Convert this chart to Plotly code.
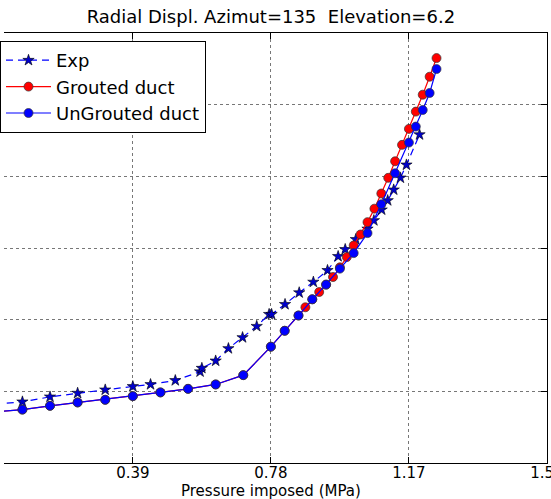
import plotly.graph_objects as go

# ---- data ----
pressure_exp = [0, 0.078, 0.156, 0.234, 0.312, 0.39, 0.44, 0.51, 0.58, 0.585, 0.624, 0.66,
                0.70, 0.74, 0.775, 0.782, 0.82, 0.86, 0.90, 0.94, 0.97, 0.99, 1.02, 1.053,
                1.071, 1.093, 1.11, 1.127, 1.146, 1.163, 1.20]
displ_exp = [0.82, 0.854, 0.923, 0.975, 1.021, 1.068, 1.096, 1.152, 1.274, 1.323, 1.425, 1.598,
             1.751, 1.908, 2.075, 2.075, 2.214, 2.377, 2.525, 2.688, 2.883, 2.981, 3.12, 3.266,
             3.384, 3.533, 3.663, 3.812, 3.979, 4.16, 4.582]

pressure_grouted = [0, 0.078, 0.156, 0.234, 0.312, 0.39, 0.468, 0.546, 0.624, 0.702, 0.78,
                    0.819, 0.858, 0.8775, 0.897, 0.9165, 0.936, 0.9555, 0.975, 0.9945, 1.014,
                    1.0335, 1.053, 1.0725, 1.092, 1.1115, 1.131, 1.1505, 1.17, 1.1895, 1.209,
                    1.2285, 1.248]
displ_grouted = [0.713, 0.745, 0.798, 0.845, 0.882, 0.933, 0.985, 1.035, 1.096, 1.226, 1.623,
                 1.845, 2.058, 2.173, 2.284, 2.386, 2.489, 2.595, 2.73, 2.873, 3.036,
                 3.189, 3.361, 3.549, 3.76, 3.979, 4.21, 4.439, 4.662, 4.903, 5.139,
                 5.39, 5.65]

pressure_ungrouted = [0, 0.078, 0.156, 0.234, 0.312, 0.39, 0.468, 0.546, 0.624, 0.702, 0.78,
                      0.819, 0.858, 0.897, 0.936, 0.975, 1.014, 1.053, 1.092, 1.131, 1.17,
                      1.1895, 1.209, 1.2285, 1.248]
displ_ungrouted = [0.713, 0.745, 0.798, 0.845, 0.882, 0.933, 0.985, 1.035, 1.096, 1.226, 1.623,
                   1.845, 2.058, 2.284, 2.489, 2.712, 2.929, 3.208, 3.61, 4.043, 4.471,
                   4.694, 4.926, 5.163, 5.497]

x_tickvals = [0, 0.39, 0.78, 1.17, 1.56]
x_ticktext = ["0", "0.39", "0.78", "1.17", "1.56"]
y_tickvals = [0, 1, 2, 3, 4, 5, 6]

FONT = "DejaVu Sans"
X_MIN, X_MAX = 0.026, 1.5601   # left part of the axes lies outside the picture

fig = go.Figure()
fig.add_trace(go.Scatter(
    x=pressure_exp, y=displ_exp, name="Exp", mode="lines+markers",
    line=dict(color="#0000ff", width=1.2, dash="7px,5px"),
    marker=dict(symbol="star", size=8.5, color="#0000cc", line=dict(color="black", width=0.6)),
))
fig.add_trace(go.Scatter(
    x=pressure_grouted, y=displ_grouted, name="Grouted duct", mode="lines+markers",
    line=dict(color="#ff0000", width=1.2),
    marker=dict(symbol="circle", size=9, color="#ff0000", line=dict(color="#333333", width=0.7)),
))
fig.add_trace(go.Scatter(
    x=pressure_ungrouted, y=displ_ungrouted, name="UnGrouted duct", mode="lines+markers",
    line=dict(color="#0000ff", width=1.2),
    marker=dict(symbol="circle", size=9, color="#0000ff", line=dict(color="#333333", width=0.7)),
))

zero_paper = (0 - X_MIN) / (X_MAX - X_MIN)
center_paper = (zero_paper + 1) / 2

fig.update_layout(
    width=551, height=499,
    margin=dict(l=0, r=4, t=33, b=36),
    paper_bgcolor="white", plot_bgcolor="white",
    font=dict(family=FONT, size=15, color="black"),
    title=dict(text="Radial Displ. Azimut=135  Elevation=6.2", x=center_paper, xref="paper",
               xanchor="center", y=1 - 16.5 / 499, yanchor="middle",
               font=dict(family=FONT, size=18, color="black")),
    showlegend=True,
    legend=dict(x=-0.008, y=1 - 8 / 430, xanchor="left", yanchor="top",
                bgcolor="white", bordercolor="black", borderwidth=1,
                font=dict(family=FONT, size=18, color="black"),
                itemwidth=45, tracegroupgap=0),
    xaxis=dict(range=[X_MIN, X_MAX], tickvals=x_tickvals, ticktext=x_ticktext,
               showline=True, linecolor="black", linewidth=1, mirror="ticks",
               ticks="inside", ticklen=6, tickcolor="black",
               ticklabeloverflow="allow", ticklabelstandoff=-4,
               showgrid=True, gridcolor="#777777", griddash="dot", gridwidth=1,
               zeroline=False, automargin=False,
               tickfont=dict(family=FONT, size=15, color="black")),
    yaxis=dict(range=[0, 6], tickvals=y_tickvals, side="right",
               showline=True, linecolor="black", linewidth=1, mirror=False,
               ticks="inside", ticklen=6, tickcolor="black", showticklabels=False,
               showgrid=True, gridcolor="#777777", griddash="dot", gridwidth=1,
               zeroline=False, automargin=False),
    annotations=[
        dict(text="0", xref="paper", yref="paper", x=zero_paper, y=0, xanchor="center",
             yanchor="top", yshift=-3, showarrow=False,
             font=dict(family=FONT, size=15, color="black")),
        dict(text="Pressure imposed (MPa)", xref="paper", yref="paper", x=center_paper, y=0,
             xanchor="center", yanchor="top", yshift=-17, showarrow=False,
             font=dict(family=FONT, size=15, color="black")),
    ],
)

fig.write_html("out.html")
